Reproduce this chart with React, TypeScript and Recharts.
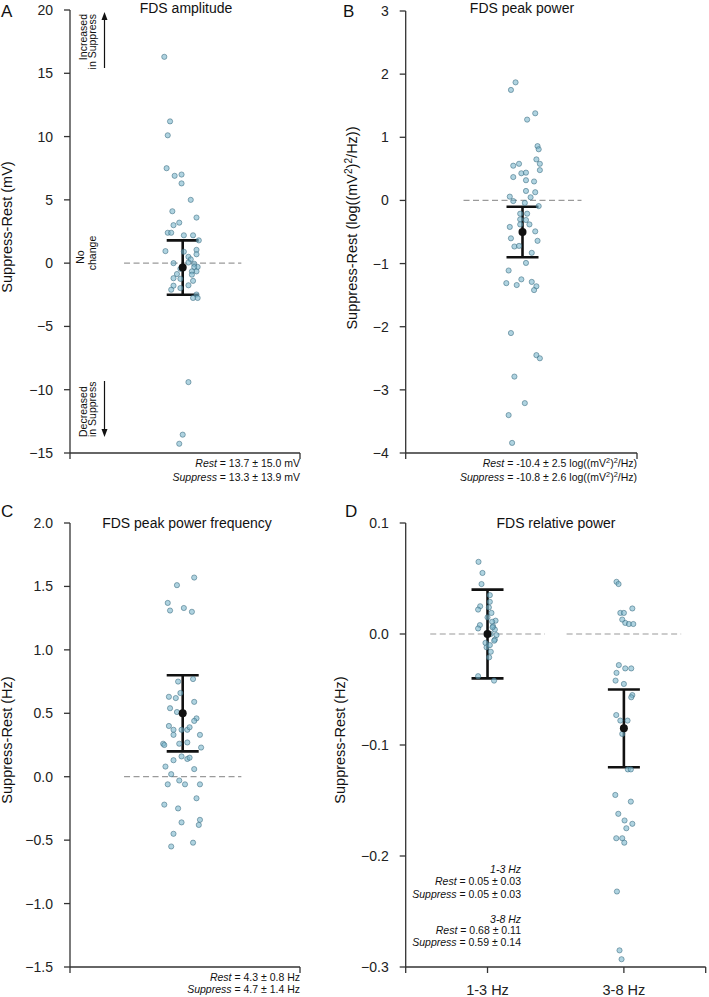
import React from 'react'
import {
  ErrorBar,
  ReferenceLine,
  Scatter,
  ScatterChart,
  XAxis,
  YAxis,
} from 'recharts'

// A: FDS amplitude (Suppress - Rest, mV)
const ampValues = [16.3, 11.2, 10.1, 7.5, 6.9, 7.0, 6.3, 5.0, 4.1, 3.6, 3.2, 3.0, 2.4, 2.4, 2.2, 2.2, 1.8, 0.95, 1.05, 0.7, 0.9, 0.5, 0.3, 0.05, 0.0, -0.05, -0.3, -0.3, -0.45, -0.65, -0.65, -0.86, -0.91, -1.19, -1.24, -1.4, -1.78, -1.97, -2.1, -1.75, -2.48, -2.75, -2.75, -9.4, -13.55, -14.27]
const ampJitter = [-0.16, -0.11, -0.13, -0.14, -0.07, -0.01, -0.01, 0.07, -0.09, 0.12, -0.03, -0.08, -0.13, -0.1, 0.01, 0.09, 0.14, -0.15, 0.12, 0.12, 0.01, 0.05, 0.07, 0.05, -0.08, 0.1, 0.13, 0.1, -0.02, 0.12, 0.08, -0.05, 0.08, -0.08, -0.02, 0.09, -0.08, -0.02, -0.1, 0.05, 0.12, 0.09, 0.13, 0.05, 0.0, -0.03]
const ampMean = -0.35
const ampSd = 2.15
const ampTicks = [-15, -10, -5, 0, 5, 10, 15, 20]

// B: FDS peak power
const powerValues = [1.87, 1.75, 1.38, 1.28, 0.86, 0.81, 0.65, 0.55, 0.58, 0.58, 0.48, 0.43, 0.44, 0.37, 0.32, 0.3, 0.15, 0.13, 0.06, 0.05, -0.01, -0.04, -0.09, -0.21, -0.21, -0.3, -0.31, -0.38, -0.38, -0.42, -0.49, -0.6, -0.64, -0.73, -0.72, -0.83, -0.99, -1.11, -1.31, -1.25, -1.34, -1.29, -1.36, -1.42, -2.1, -2.45, -2.5, -2.79, -3.21, -3.4, -3.84]
const powerJitter = [-0.06, -0.1, 0.11, 0.04, 0.13, 0.14, 0.12, -0.08, -0.03, 0.15, 0.15, -0.01, 0.03, -0.08, 0.03, 0.1, 0.03, 0.11, -0.11, 0.07, -0.08, 0.02, 0.14, -0.02, 0.04, -0.02, 0.03, -0.02, 0.06, -0.11, 0.11, -0.1, 0.13, -0.07, -0.03, 0.08, 0.03, -0.12, -0.14, -0.01, -0.05, 0.08, 0.12, 0.1, -0.1, 0.12, 0.15, -0.07, 0.02, -0.12, -0.09]
const powerMean = -0.5
const powerSd = 0.4
const powerTicks = [-4, -3, -2, -1, 0, 1, 2, 3]

// C: FDS peak power frequency
const freqValues = [1.57, 1.51, 1.37, 1.31, 1.33, 1.3, 0.77, 0.75, 0.63, 0.62, 0.66, 0.59, 0.54, 0.51, 0.46, 0.44, 0.4, 0.37, 0.33, 0.37, 0.37, 0.39, 0.33, 0.26, 0.25, 0.26, 0.27, 0.23, 0.13, 0.16, 0.14, 0.15, 0.08, 0.06, 0.02, -0.03, -0.06, -0.06, -0.06, -0.17, -0.22, -0.25, -0.34, -0.36, -0.38, -0.45, -0.52, -0.55]
const freqJitter = [0.1, -0.05, -0.13, -0.11, 0.01, 0.08, 0.09, -0.04, -0.12, -0.06, -0.02, 0.1, -0.11, -0.05, 0.12, 0.1, -0.12, -0.08, -0.08, -0.01, 0.04, 0.06, 0.15, -0.17, -0.16, -0.03, 0.04, 0.16, -0.08, -0.01, 0.04, 0.06, -0.15, 0.1, -0.1, -0.03, -0.13, 0.02, 0.15, 0.12, -0.16, -0.04, 0.15, -0.01, 0.14, -0.08, 0.09, -0.1]
const freqMean = 0.5
const freqSd = 0.3
const freqTicks = [-1.5, -1.0, -0.5, 0.0, 0.5, 1.0, 1.5, 2.0]

// D: FDS relative power, two bands
const bands = ['1-3 Hz', '3-8 Hz']
const rel13Values = [0.065, 0.055, 0.045, 0.035, 0.029, 0.025, 0.022, 0.024, 0.019, 0.015, 0.012, 0.011, 0.008, 0.005, 0.007, 0.004, -0.001, 0.0, -0.005, -0.008, -0.012, -0.016, -0.021, -0.038, -0.042, 0.006, -0.006, -0.01]
const rel13Jitter = [-0.066, -0.037, -0.044, 0.017, 0.017, -0.054, -0.069, 0.01, 0.029, 0.0, 0.059, 0.034, -0.056, -0.069, 0.041, 0.054, 0.066, 0.024, 0.054, -0.015, -0.007, 0.024, 0.012, -0.069, 0.048, 0.037, 0.049, 0.017]
const rel38Values = [0.047, 0.045, 0.023, 0.019, 0.019, 0.013, 0.01, 0.009, 0.009, -0.028, -0.031, -0.031, -0.035, -0.042, -0.045, -0.055, -0.057, -0.073, -0.078, -0.078, -0.09, -0.122, -0.122, -0.145, -0.151, -0.162, -0.168, -0.171, -0.175, -0.184, -0.184, -0.188, -0.232, -0.285, -0.293]
const rel38Jitter = [-0.054, -0.039, 0.062, -0.026, 0.0, -0.012, 0.01, 0.037, 0.069, -0.037, 0.01, 0.054, -0.054, -0.061, 0.0, 0.062, 0.054, -0.056, -0.026, 0.027, -0.012, 0.029, 0.051, -0.063, 0.051, -0.041, 0.005, 0.062, 0.018, -0.056, -0.012, 0.003, -0.051, -0.032, -0.017]
const relMeans = [0.0, -0.085]
const relSds = [0.04, 0.035]
const relTicks = [-0.3, -0.2, -0.1, 0.0, 0.1]

const FONT = '"Liberation Sans", Arial, Helvetica, sans-serif'
const AXIS = '#333'

type Pt = { x: number; y: number }
type Group = { points: Pt[]; mean: { x: number; y: number; err: number } }

const toPoints = (vals: number[], jit: number[], center: number): Pt[] =>
  vals.map((v, i) => ({ x: center + jit[i], y: v }))

const PointDot = (p: any) => (
  <circle
    cx={p.cx}
    cy={p.cy}
    r={2.6}
    fill="rgba(122,182,203,0.6)"
    stroke="rgba(50,100,120,0.75)"
    strokeWidth={0.7}
  />
)

const MeanDot = (p: any) => <circle cx={p.cx} cy={p.cy} r={4} fill="#111" />

const minus = (s: string) => s.replace('-', '\u2212')

interface PanelProps {
  left: number
  top: number
  width: number
  height: number
  margin: { top: number; right: number; bottom: number; left: number }
  yWidth: number
  xDomain: [number, number]
  xTicks: number[]
  xLabel?: (v: number) => string
  yTicks: number[]
  yFmt: (v: number) => string
  groups: Group[]
  dashHalf: number
}

function Panel(props: PanelProps) {
  const { left, top, width, height, margin, yWidth, xDomain, xTicks, xLabel, yTicks, yFmt, groups, dashHalf } = props
  return (
    <div style={{ position: 'absolute', left, top, width, height }}>
      <ScatterChart width={width} height={height} margin={margin}>
        <XAxis
          type="number"
          dataKey="x"
          domain={xDomain}
          ticks={xTicks}
          interval={0}
          height={margin.bottom > 30 ? 30 : 20}
          tickFormatter={(v: number) => (xLabel ? xLabel(v) : '')}
          axisLine={{ stroke: AXIS, strokeWidth: 1.3 }}
          tickLine={{ stroke: AXIS, strokeWidth: 1.3 }}
          tickSize={6}
          tickMargin={12}
          tick={{ fill: '#222', fontSize: 14.5, fontFamily: FONT }}
          allowDataOverflow
        />
        <YAxis
          type="number"
          dataKey="y"
          width={yWidth}
          domain={[yTicks[0], yTicks[yTicks.length - 1]]}
          ticks={yTicks}
          interval={0}
          tickFormatter={yFmt}
          axisLine={{ stroke: AXIS, strokeWidth: 1.3 }}
          tickLine={{ stroke: AXIS, strokeWidth: 1.3 }}
          tickSize={6}
          tickMargin={11}
          tick={{ fill: '#222', fontSize: 14, fontFamily: FONT }}
          allowDataOverflow
        />
        {groups.map((g, i) => (
          <ReferenceLine
            key={'r' + i}
            segment={[
              { x: g.mean.x - dashHalf, y: 0 },
              { x: g.mean.x + dashHalf, y: 0 },
            ]}
            stroke="#9a9a9a"
            strokeWidth={1.2}
            strokeDasharray="6 3.5"
          />
        ))}
        {groups.map((g, i) => (
          <Scatter key={'p' + i} data={g.points} shape={PointDot} isAnimationActive={false} />
        ))}
        {groups.map((g, i) => (
          <Scatter key={'m' + i} data={[g.mean]} shape={MeanDot} isAnimationActive={false}>
            <ErrorBar dataKey="err" direction="y" width={16} stroke="#111" strokeWidth={2.6} />
          </Scatter>
        ))}
      </ScatterChart>
    </div>
  )
}

const It = ({ children }: { children: React.ReactNode }) => <tspan fontStyle="italic">{children}</tspan>

// "log((mV²)²/Hz)" with raised 2s, baseline restored on the following glyph
function LogUnit({ size }: { size: number }) {
  const up = size * 0.38
  const small = size * 0.7
  return (
    <>
      <tspan>log((mV</tspan>
      <tspan dy={-up} fontSize={small}>2</tspan>
      <tspan dy={up}>)</tspan>
      <tspan dy={-up} fontSize={small}>2</tspan>
      <tspan dy={up}>/Hz)</tspan>
    </>
  )
}

function Overlay() {
  const t = { fontFamily: FONT, fill: '#111' }
  const note = { ...t, fontSize: 10.5 }
  return (
    <svg
      width={709}
      height={997}
      style={{ position: 'absolute', left: 0, top: 0, pointerEvents: 'none' }}
    >
      {/* panel letters */}
      <text x={1} y={17} fontSize={17} {...t}>A</text>
      <text x={343} y={17} fontSize={17} {...t}>B</text>
      <text x={1} y={517} fontSize={17} {...t}>C</text>
      <text x={345} y={517} fontSize={17} {...t}>D</text>

      {/* titles */}
      <text x={186} y={13} fontSize={14} textAnchor="middle" {...t}>FDS amplitude</text>
      <text x={522} y={13} fontSize={14} textAnchor="middle" {...t}>FDS peak power</text>
      <text x={187} y={528} fontSize={14} textAnchor="middle" {...t}>FDS peak power frequency</text>
      <text x={556} y={528} fontSize={14} textAnchor="middle" {...t}>FDS relative power</text>

      {/* y labels */}
      <text transform="translate(12,227) rotate(-90)" fontSize={14.5} textAnchor="middle" {...t}>Suppress-Rest (mV)</text>
      <text transform="translate(357,228) rotate(-90)" fontSize={14.5} textAnchor="middle" {...t}>
        <tspan>Suppress-Rest (</tspan>
        <LogUnit size={14.5} />
        <tspan>)</tspan>
      </text>
      <text transform="translate(12,740) rotate(-90)" fontSize={14.5} textAnchor="middle" {...t}>Suppress-Rest (Hz)</text>
      <text transform="translate(345,740) rotate(-90)" fontSize={14.5} textAnchor="middle" {...t}>Suppress-Rest (Hz)</text>

      {/* direction notes in A */}
      <text transform="translate(87,14) rotate(-90)" textAnchor="end" {...note}>Increased</text>
      <text transform="translate(96,14) rotate(-90)" textAnchor="end" {...note}>in Suppress</text>
      <line x1={104.5} y1={68} x2={104.5} y2={19} stroke="#111" strokeWidth={1.2} />
      <polygon points="104.5,12 101.5,20 107.5,20" fill="#111" />
      <text transform="translate(84,257) rotate(-90)" textAnchor="middle" {...note}>No</text>
      <text transform="translate(96,253) rotate(-90)" textAnchor="middle" {...note}>change</text>
      <text transform="translate(87,437) rotate(-90)" textAnchor="start" {...note}>Decreased</text>
      <text transform="translate(96,437) rotate(-90)" textAnchor="start" {...note}>in Suppress</text>
      <line x1={104.5} y1={381} x2={104.5} y2={430} stroke="#111" strokeWidth={1.2} />
      <polygon points="104.5,437 101.5,429 107.5,429" fill="#111" />

      {/* stats */}
      <text x={300} y={467} textAnchor="end" {...note}><It>Rest</It> = 13.7 ± 15.0 mV</text>
      <text x={300} y={480.5} textAnchor="end" {...note}><It>Suppress</It> = 13.3 ± 13.9 mV</text>
      <text x={637} y={467} textAnchor="end" {...note}>
        <It>Rest</It> = -10.4 ± 2.5 <LogUnit size={10.5} />
      </text>
      <text x={637} y={481} textAnchor="end" {...note}>
        <It>Suppress</It> = -10.8 ± 2.6 <LogUnit size={10.5} />
      </text>
      <text x={300} y={980.5} textAnchor="end" {...note}><It>Rest</It> = 4.3 ± 0.8 Hz</text>
      <text x={300} y={993} textAnchor="end" {...note}><It>Suppress</It> = 4.7 ± 1.4 Hz</text>

      <text x={521} y={873} textAnchor="end" {...note}><It>1-3 Hz</It></text>
      <text x={521} y={885} textAnchor="end" {...note}><It>Rest</It> = 0.05 ± 0.03</text>
      <text x={521} y={897.5} textAnchor="end" {...note}><It>Suppress</It> = 0.05 ± 0.03</text>
      <text x={521} y={922.5} textAnchor="end" {...note}><It>3-8 Hz</It></text>
      <text x={521} y={934} textAnchor="end" {...note}><It>Rest</It> = 0.68 ± 0.11</text>
      <text x={521} y={946} textAnchor="end" {...note}><It>Suppress</It> = 0.59 ± 0.14</text>
    </svg>
  )
}

export default function App() {
  const ampGroups: Group[] = [
    { points: toPoints(ampValues, ampJitter, 0), mean: { x: 0, y: ampMean, err: ampSd } },
  ]
  const powerGroups: Group[] = [
    { points: toPoints(powerValues, powerJitter, 0), mean: { x: 0, y: powerMean, err: powerSd } },
  ]
  const freqGroups: Group[] = [
    { points: toPoints(freqValues, freqJitter, 0), mean: { x: 0, y: freqMean, err: freqSd } },
  ]
  const relGroups: Group[] = [
    { points: toPoints(rel13Values, rel13Jitter, 1), mean: { x: 1, y: relMeans[0], err: relSds[0] } },
    { points: toPoints(rel38Values, rel38Jitter, 2), mean: { x: 2, y: relMeans[1], err: relSds[1] } },
  ]

  return (
    <div
      style={{
        position: 'absolute',
        left: 0,
        top: 0,
        width: 709,
        height: 997,
        background: '#fff',
        fontFamily: FONT,
      }}
    >
      <Panel
        left={0}
        top={0}
        width={354}
        height={490}
        margin={{ top: 10, right: 54, bottom: 17, left: 0 }}
        yWidth={70}
        xDomain={[-0.98, 1.02]}
        xTicks={[-0.98, 1.02]}
        yTicks={ampTicks}
        yFmt={(v) => minus(String(v))}
        groups={ampGroups}
        dashHalf={0.51}
      />
      <Panel
        left={354}
        top={0}
        width={355}
        height={490}
        margin={{ top: 11, right: 72, bottom: 17, left: 0 }}
        yWidth={51.7}
        xDomain={[-1.01, 0.99]}
        xTicks={[-1.01, 0.99]}
        yTicks={powerTicks}
        yFmt={(v) => minus(String(v))}
        groups={powerGroups}
        dashHalf={0.51}
      />
      <Panel
        left={0}
        top={490}
        width={354}
        height={507}
        margin={{ top: 33, right: 54, bottom: 10, left: 0 }}
        yWidth={70}
        xDomain={[-0.98, 1.02]}
        xTicks={[-0.98, 1.02]}
        yTicks={freqTicks}
        yFmt={(v) => minus(v.toFixed(1))}
        groups={freqGroups}
        dashHalf={0.51}
      />
      <Panel
        left={354}
        top={490}
        width={355}
        height={507}
        margin={{ top: 33, right: 3.3, bottom: 10, left: 0 }}
        yWidth={51.7}
        xDomain={[0.4, 2.6]}
        xTicks={[0.4, 1, 2, 2.6]}
        xLabel={(v) => (v === 1 ? bands[0] : v === 2 ? bands[1] : '')}
        yTicks={relTicks}
        yFmt={(v) => minus(v.toFixed(1))}
        groups={relGroups}
        dashHalf={0.42}
      />
      <Overlay />
    </div>
  )
}
